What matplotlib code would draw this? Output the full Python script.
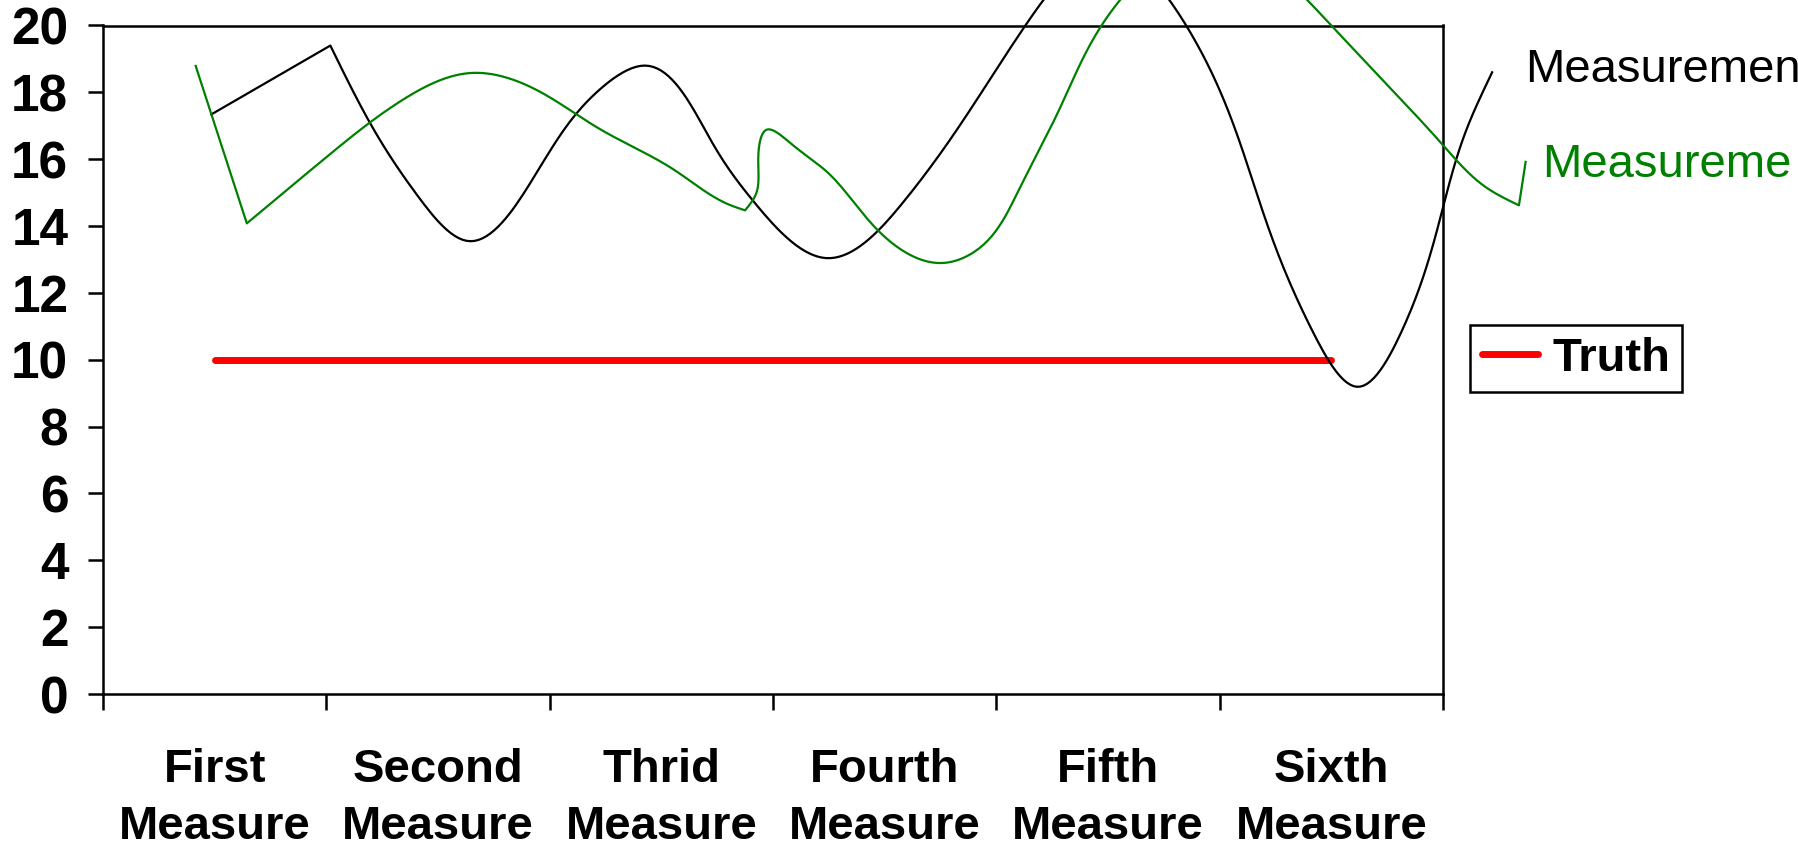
import numpy as np
import matplotlib
matplotlib.use('Agg')
import matplotlib.pyplot as plt
from matplotlib.lines import Line2D

plt.rcParams['font.family'] = ['Liberation Sans', 'DejaVu Sans']

# categories and values
categories = ['First\nMeasure', 'Second\nMeasure', 'Thrid\nMeasure',
              'Fourth\nMeasure', 'Fifth\nMeasure', 'Sixth\nMeasure']
truth = [10, 10, 10, 10, 10, 10]
yticks = [0, 2, 4, 6, 8, 10, 12, 14, 16, 18, 20]

# hand traced measurement curves (x in category units); corners = points where the curve is not smoothed
meas1_x = [0.985, 1.518, 1.69, 1.915, 2.136, 2.43, 2.72, 2.92, 3.23, 3.42, 3.74,
           4.09, 4.43, 4.63, 4.99, 5.35, 5.66, 5.92, 6.12, 6.31, 6.61, 6.72]
meas1_y = [17.34, 19.4, 17.15, 14.85, 13.55, 15.47, 18.06, 18.8, 16.47, 14.68, 13.04,
           14.77, 17.96, 20.0, 22.2, 20.0, 15.1, 10.8, 9.19, 10.78, 16.97, 18.6]
meas1_corners = [1]

meas2_x = [0.915, 1.144, 1.50, 1.85, 2.15, 2.43, 2.72, 3.06, 3.30, 3.375, 3.42, 3.435, 3.47,
           3.58, 3.75, 3.97, 4.27, 4.43, 4.60, 4.78, 4.97, 5.46, 6.0, 6.26, 6.50, 6.69,
           6.84, 6.87]
meas2_y = [18.79, 14.08, 16.06, 17.81, 18.58, 18.11, 16.92, 15.67, 14.65, 14.47, 14.9, 16.2, 16.88,
           16.47, 15.57, 13.87, 12.9, 13.37, 15.07, 17.46, 19.99, 22.5, 20.0, 18.16, 16.42, 15.17,
           14.62, 15.92]
meas2_corners = [1, 9, 26]

# x units are ~6.7x wider than y units on screen
XSCALE = 6.7


def natural_spline(t, v, tt):
    n = len(t)
    h = np.diff(t)
    A = np.zeros((n, n))
    r = np.zeros(n)
    A[0, 0] = A[-1, -1] = 1.0
    for i in range(1, n - 1):
        A[i, i - 1] = h[i - 1]
        A[i, i] = 2 * (h[i - 1] + h[i])
        A[i, i + 1] = h[i]
        r[i] = 6 * ((v[i + 1] - v[i]) / h[i] - (v[i] - v[i - 1]) / h[i - 1])
    M = np.linalg.solve(A, r)
    i = np.clip(np.searchsorted(t, tt, side='right') - 1, 0, n - 2)
    hi = h[i]
    a = (t[i + 1] - tt) / hi
    b = (tt - t[i]) / hi
    return a * v[i] + b * v[i + 1] + ((a ** 3 - a) * M[i] + (b ** 3 - b) * M[i + 1]) * hi ** 2 / 6


def spline_piece(pts, n=400):
    if len(pts) < 3:
        return pts
    d = np.hypot(np.diff(pts[:, 0]) * XSCALE, np.diff(pts[:, 1]))
    t = np.concatenate([[0], np.cumsum(d)])
    tt = np.linspace(0, t[-1], n)
    return np.column_stack([natural_spline(t, pts[:, 0], tt), natural_spline(t, pts[:, 1], tt)])


def smooth(xs, ys, corners):
    pts = np.column_stack([xs, ys])
    cuts = [0] + list(corners) + [len(pts) - 1]
    curve = np.vstack([spline_piece(pts[a:b + 1]) for a, b in zip(cuts[:-1], cuts[1:])])
    return curve[:, 0], curve[:, 1]


fig = plt.figure(figsize=(17.98, 8.51), dpi=100)
ax = fig.add_axes([103 / 1798, (851 - 694) / 851, 1340 / 1798, 668.5 / 851])

x = np.arange(1, len(categories) + 1)
ax.plot(x, truth, color='#FF0000', lw=5, solid_capstyle='round', zorder=2)

sx, sy = smooth(meas1_x, meas1_y, meas1_corners)
ax.plot(sx, sy, color='black', lw=1.6, clip_on=False, zorder=3)
sx, sy = smooth(meas2_x, meas2_y, meas2_corners)
ax.plot(sx, sy, color='#008000', lw=1.6, clip_on=False, zorder=3)

ax.set_xlim(0.5, 6.5)
ax.set_ylim(0, 20)
ax.set_yticks(yticks)
ax.set_yticklabels([str(v) for v in yticks], fontsize=37, fontweight='bold')
ax.set_xticks(np.arange(0.5, 7, 1))
ax.set_xticklabels([])
ax.set_xticks(x, minor=True)
ax.set_xticklabels(categories, minor=True, fontsize=34, fontweight='bold', linespacing=1.38)
ax.tick_params(axis='x', which='major', direction='out', length=11.5, width=1.8)
ax.tick_params(axis='x', which='minor', length=0, pad=39)
ax.tick_params(axis='y', direction='out', length=11, width=1.8, pad=14)
for s in ax.spines.values():
    s.set_linewidth(1.8)

# series labels on the right, running off the edge
fig.text(1525 / 1798, 1 - 82 / 851, 'Measuremen', fontsize=34, color='black', va='baseline')
fig.text(1542 / 1798, 1 - 177 / 851, 'Measureme', fontsize=34, color='#008000', va='baseline')

handle = Line2D([], [], color='#FF0000', lw=5, solid_capstyle='round')
leg = fig.legend([handle], ['Truth'], loc='center left',
                 bbox_to_anchor=(1470 / 1798, 1 - 358.5 / 851), frameon=True, fancybox=False,
                 edgecolor='black', framealpha=1, handlelength=1.2, handletextpad=0.3,
                 borderpad=0.25, borderaxespad=0, prop={'size': 34, 'weight': 'bold'})
leg.get_frame().set_linewidth(1.8)

fig.savefig('out.png', dpi=100)
